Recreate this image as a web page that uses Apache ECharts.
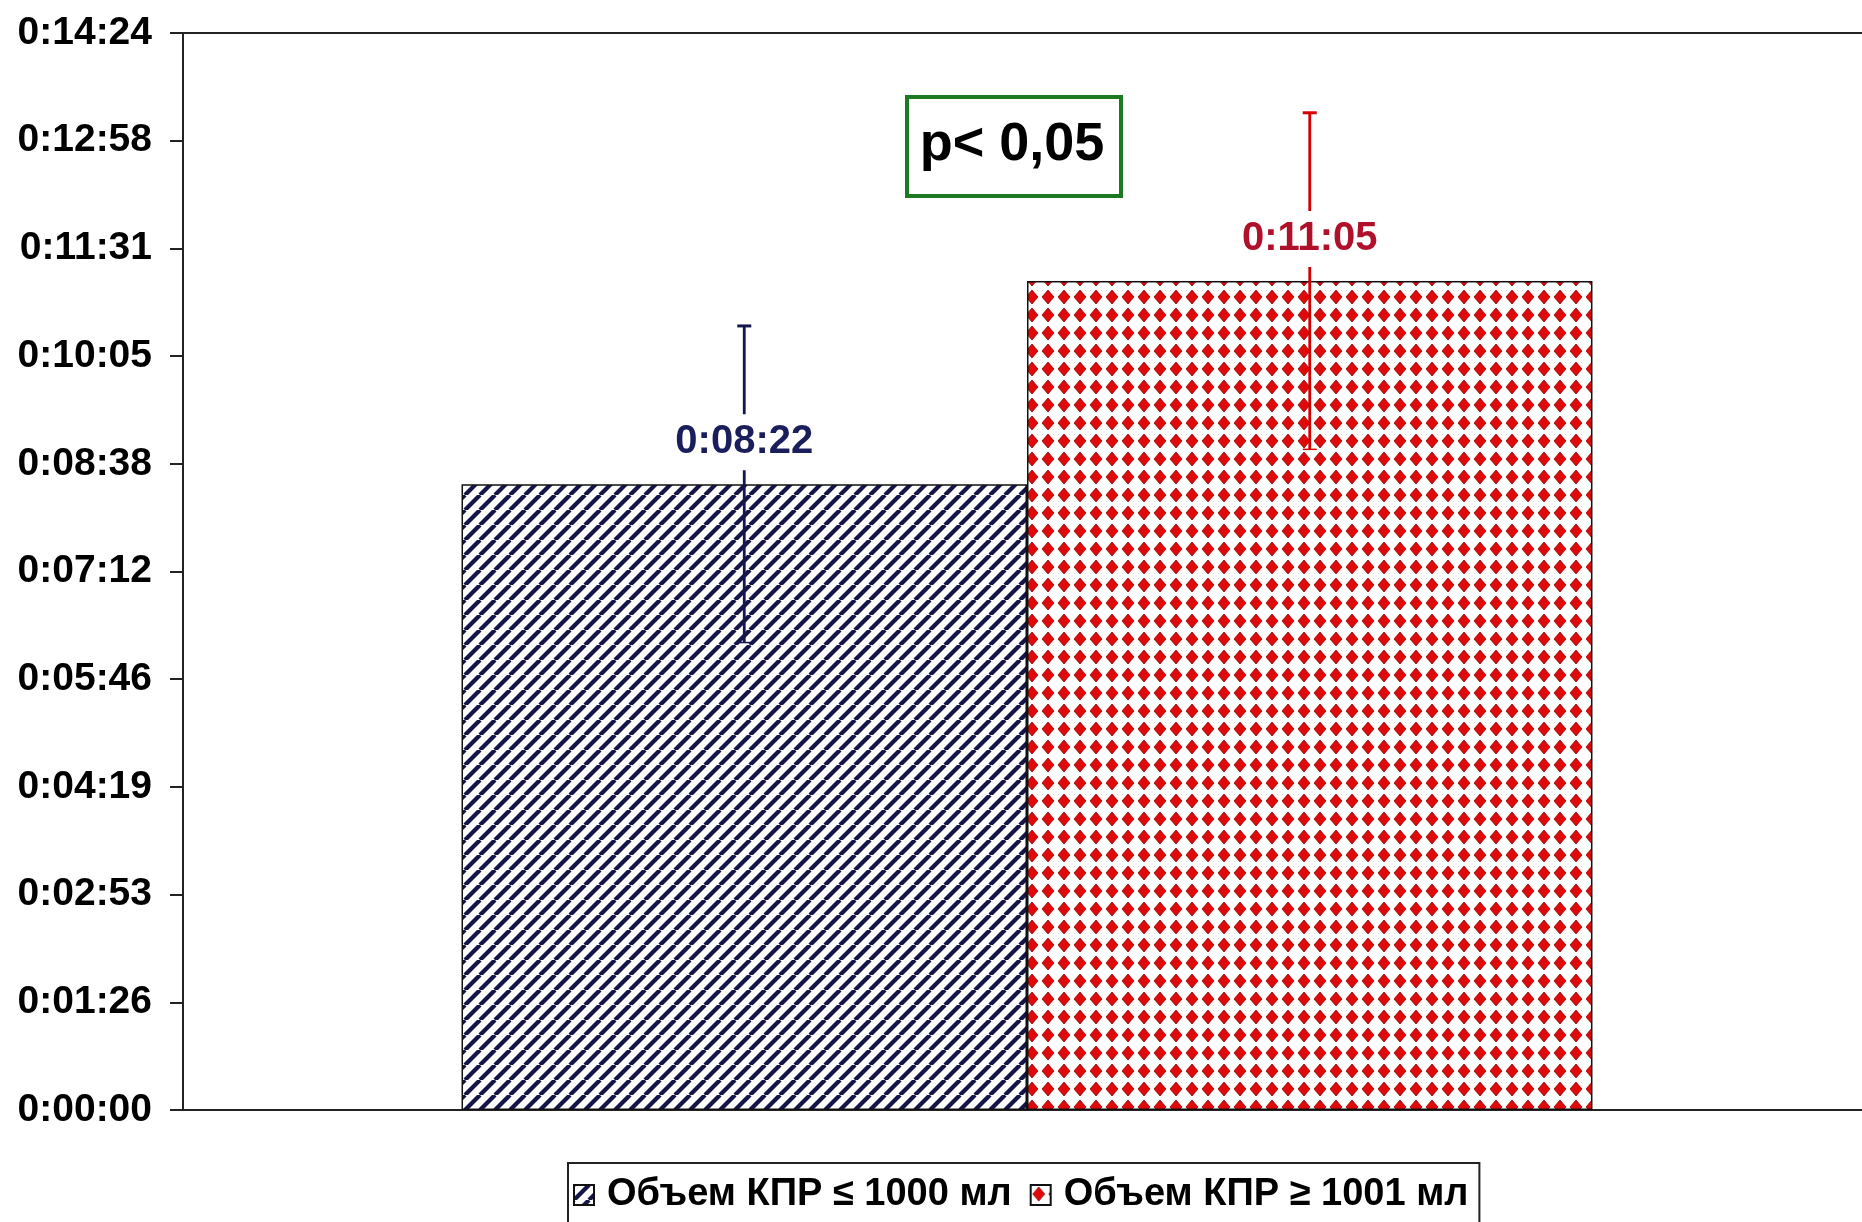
<!DOCTYPE html>
<html>
<head>
<meta charset="utf-8">
<script src="https://cdn.jsdelivr.net/npm/echarts@6/dist/echarts.min.js"></script>
<style>
html,body{margin:0;padding:0;background:#fff;}
#chart{width:1862px;height:1222px;}
</style>
</head>
<body>
<div id="chart"></div>
<script>
// ---- data ----
const categories = [''];
const seriesNames = ['Объем КПР ≤ 1000 мл', 'Объем КПР ≥ 1001 мл'];
const meanSeconds = [502, 665];          // 0:08:22, 0:11:05
const sdSeconds = [127, 135];            // error bar half-lengths (s)
const yMax = 864;                        // 0:14:24
const yInterval = 86.4;                  // 0:01:26.4
const pValueText = 'p< 0,05';

const FONT = "'Liberation Sans', Arial, sans-serif";

function fmtTime(v) {
  const s = Math.round(v);
  const h = Math.floor(s / 3600);
  const m = Math.floor((s % 3600) / 60);
  const sec = s % 60;
  return h + ':' + String(m).padStart(2, '0') + ':' + String(sec).padStart(2, '0');
}

function stripePattern() {
  const c = document.createElement('canvas');
  c.width = 15; c.height = 15;
  const g = c.getContext('2d');
  g.fillStyle = '#ffffff'; g.fillRect(0, 0, 15, 15);
  g.strokeStyle = '#15154a'; g.lineWidth = 4.2;
  for (const x0 of [-15, 0, 15]) {
    g.beginPath(); g.moveTo(x0, 15); g.lineTo(x0 + 15, 0); g.stroke();
  }
  return c;
}
function diamondPattern() {
  const w = 16, h = 18;
  const c = document.createElement('canvas');
  c.width = w; c.height = h;
  const g = c.getContext('2d');
  g.fillStyle = '#ffffff'; g.fillRect(0, 0, w, h);
  g.fillStyle = '#e00808'; g.strokeStyle = '#8a0a0a'; g.lineWidth = 0.8;
  g.beginPath();
  g.moveTo(w / 2, h / 2 - 7); g.lineTo(w / 2 + 6, h / 2);
  g.lineTo(w / 2, h / 2 + 7); g.lineTo(w / 2 - 6, h / 2); g.closePath();
  g.fill(); g.stroke();
  return c;
}

const patterns = [
  { image: stripePattern(), repeat: 'repeat' },
  { image: diamondPattern(), repeat: 'repeat' }
];
const errColors = ['#16164e', '#d40000'];
const labelColors = ['#1a1f5c', '#b0102a'];
const barCatGap = 0.33;

const chart = echarts.init(document.getElementById('chart'), null, { renderer: 'canvas' });

const barSeries = seriesNames.map((name, i) => ({
  name: name,
  type: 'bar',
  xAxisIndex: 0,
  data: [meanSeconds[i]],
  barGap: '0%',
  barCategoryGap: (barCatGap * 100) + '%',
  z: 2,
  itemStyle: { color: patterns[i], borderColor: '#111', borderWidth: 1.5 }
}));

const errData = meanSeconds.map((m, i) => [0, m, sdSeconds[i], i]);

const errSeries = {
  type: 'custom',
  name: 'err',
  xAxisIndex: 0,
  z: 5,
  silent: true,
  data: errData,
  encode: { x: 0, y: 1 },
  renderItem: function (params, api) {
    const mean = api.value(1), sd = api.value(2), idx = api.value(3);
    const center = api.coord([0, 0])[0];
    const catW = api.size([1, 0])[0];
    const barW = catW * (1 - barCatGap) / 2;
    const x = center + (idx === 0 ? -barW / 2 : barW / 2);
    const yTop = api.coord([0, mean + sd])[1];
    const yBot = api.coord([0, mean - sd])[1];
    const yMean = api.coord([0, mean])[1];
    const col = errColors[idx];
    const lw = 2.8, cap = 7;
    return {
      type: 'group',
      children: [
        { type: 'line', shape: { x1: x, y1: yTop, x2: x, y2: yBot }, style: { stroke: col, lineWidth: lw } },
        { type: 'line', shape: { x1: x - cap, y1: yTop, x2: x + cap, y2: yTop }, style: { stroke: col, lineWidth: 3 } },
        { type: 'line', shape: { x1: x - cap, y1: yBot, x2: x + cap, y2: yBot }, style: { stroke: col, lineWidth: 1.5 } },
        {
          type: 'text',
          x: x, y: yMean - 42,
          style: {
            text: fmtTime(mean),
            fill: labelColors[idx],
            font: 'bold 40px ' + FONT,
            align: 'center',
            verticalAlign: 'middle',
            backgroundColor: '#ffffff',
            padding: [8, 6, 8, 6]
          }
        }
      ]
    };
  }
};

const option = {
  animation: false,
  backgroundColor: '#ffffff',
  grid: { left: 183, right: -9, top: 33, bottom: 112, containLabel: false, outerBoundsMode: 'none' },
  legend: {
    data: seriesNames,
    left: 568,
    top: 1163,
    orient: 'horizontal',
    icon: 'rect',
    itemWidth: 20,
    itemHeight: 20,
    itemGap: 18,
    padding: [10, 11, 14, 5],
    borderColor: '#222',
    borderWidth: 2,
    backgroundColor: '#fff',
    borderRadius: 0,
    textStyle: { fontFamily: FONT, fontWeight: 'bold', fontSize: 38, lineHeight: 44, color: '#000', padding: [0, 0, 0, 8] },
    selectedMode: false
  },
  xAxis: [
    {
      type: 'category',
      data: categories,
      position: 'bottom',
      axisLine: { show: true, lineStyle: { color: '#222', width: 2 } },
      axisTick: { show: false },
      axisLabel: { show: false },
      splitLine: { show: false }
    },
    {
      type: 'category',
      data: categories,
      position: 'top',
      axisLine: { show: true, onZero: false, lineStyle: { color: '#222', width: 2 } },
      axisTick: { show: false },
      axisLabel: { show: false },
      splitLine: { show: false }
    }
  ],
  yAxis: {
    type: 'value',
    min: 0,
    max: yMax,
    interval: yInterval,
    axisLine: { show: true, lineStyle: { color: '#222', width: 2 } },
    axisTick: { show: true, length: 13, lineStyle: { color: '#222', width: 2 } },
    splitLine: { show: false },
    axisLabel: {
      margin: 31,
      color: '#000',
      fontFamily: FONT,
      fontWeight: 'bold',
      fontSize: 39,
      formatter: fmtTime
    }
  },
  graphic: [
    {
      type: 'rect',
      left: 905, top: 95,
      shape: { width: 214, height: 99 },
      style: { fill: '#ffffff', stroke: '#1d7a23', lineWidth: 4 },
      z: 10
    },
    {
      type: 'text',
      x: 1012, y: 145,
      style: {
        text: pValueText,
        font: 'bold 54px ' + FONT,
        fill: '#000',
        align: 'center',
        verticalAlign: 'middle'
      },
      z: 11
    }
  ],
  series: barSeries.concat([errSeries])
};

chart.setOption(option);
</script>
</body>
</html>
